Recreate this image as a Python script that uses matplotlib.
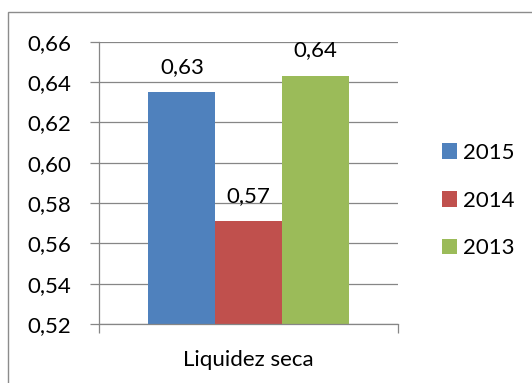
import matplotlib
matplotlib.use("Agg")
import matplotlib.pyplot as plt
from matplotlib.patches import Patch, Rectangle

plt.rcParams['font.family'] = ['Lato', 'DejaVu Sans']

category = "Liquidez seca"
years = ["2015", "2014", "2013"]
values = [0.6349, 0.571, 0.643]
colors = ["#4F81BD", "#C0504D", "#9BBB59"]
yticks = [0.52, 0.54, 0.56, 0.58, 0.60, 0.62, 0.64, 0.66]

FS = 16
W, H = 532, 383
fig = plt.figure(figsize=(W / 100, H / 100), dpi=100)
ax = fig.add_axes([99 / W, 1 - 324 / H, (398 - 99) / W, (324 - 41.7) / H])

grid_col = "#868686"
bar_w = 0.223
offsets = [-bar_w, 0.0, bar_w]
for off, v, c, lab in zip(offsets, values, colors, years):
    ax.bar(off, v - yticks[0], bottom=yticks[0], width=bar_w, color=c,
           label=lab, zorder=3)
    ax.annotate(f"{v:.2f}".replace(".", ","), (off, v),
                xytext=(0, 14), textcoords="offset points",
                ha="center", va="baseline", fontsize=FS, color="black")

ax.set_xlim(-0.5, 0.5)
ax.set_ylim(yticks[0], yticks[-1])
ax.set_yticks(yticks)
ax.set_yticklabels([f"{t:.2f}".replace(".", ",") for t in yticks])
ax.yaxis.grid(True, color=grid_col, linewidth=0.9, zorder=0)
ax.tick_params(axis="y", length=6.5, width=0.9, color=grid_col,
               pad=13.5, labelsize=FS)

ax.set_xticks([0])
ax.set_xticklabels([category])
ax.set_xticks([-0.5, 0.5], minor=True)
ax.tick_params(axis="x", which="major", length=0, pad=19, labelsize=FS)
ax.tick_params(axis="x", which="minor", length=6.5, width=0.9, color=grid_col)

for s in ["top", "right"]:
    ax.spines[s].set_visible(False)
for s in ["left", "bottom"]:
    ax.spines[s].set_color(grid_col)
    ax.spines[s].set_linewidth(0.9)
    ax.spines[s].set_zorder(4)

handles = [Patch(facecolor=c, edgecolor="none") for c in colors]
fig.legend(handles, years, loc="center left",
           bbox_to_anchor=(441.7 / W, 1 - 200.7 / H),
           frameon=False, fontsize=FS, borderpad=0, borderaxespad=0,
           handlelength=0.68, handleheight=0.68, handletextpad=0.3,
           labelspacing=1.25)

# chart frame
fig.patches.append(Rectangle((8 / W, -0.05), 1.1, 1 - 12 / H + 0.05,
                             transform=fig.transFigure, fill=False,
                             edgecolor="#8C8C8C", linewidth=1.0))

fig.savefig("out.png", dpi=100)
